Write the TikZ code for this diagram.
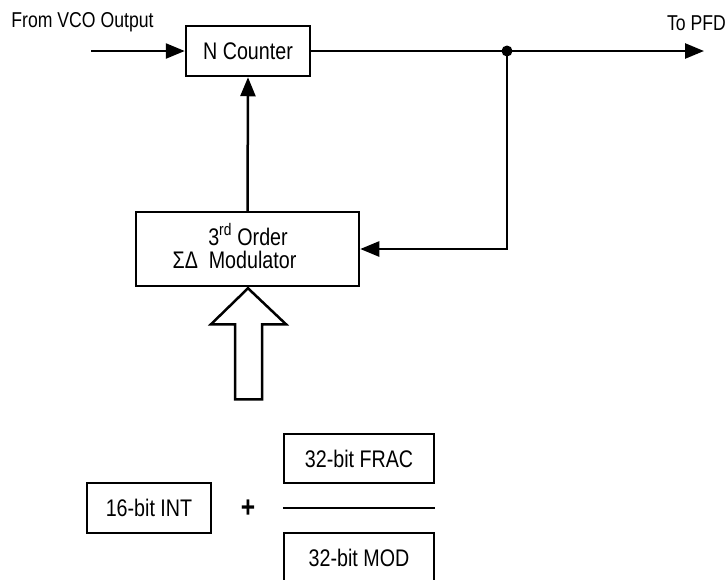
\documentclass[tikz,border=0pt]{standalone}
\usepackage{fontspec}
\setmainfont{Liberation Sans}[FakeStretch=0.82]
\usetikzlibrary{arrows.meta,positioning,calc}
\tikzset{
  blk/.style={draw,line width=2.5pt,minimum width=124pt,minimum height=50pt,
    inner sep=0pt,font=\fontsize{24}{28}\selectfont},
  txt/.style={inner sep=0pt,font=\fontsize{24}{28}\selectfont},
  lbl/.style={inner sep=0pt,font=\fontsize{21.5}{24}\selectfont},
  wire/.style={line width=2.5pt},
}

\begin{document}
\begin{tikzpicture}[x=1pt,y=-1pt,>={Triangle[length=19pt,width=15pt]}]
      \useasboundingbox (0,0) rectangle (728,579);
      \coordinate (vco) at (91,51);
      \coordinate (tap) at (507,51);
      \coordinate (pfd) at (704,51);
      \node[blk] (ncount) at (248,51) {N Counter};
      \node[blk,minimum width=223pt,minimum height=74pt] (sdmod) at (247.5,249) {};
      \node[txt,anchor=base] (ordtxt) at (248,245) {3\textsuperscript{rd} Order};
      \node[txt,anchor=base] (sdtxt) at (234.5,268) {ΣΔ\ \ Modulator};
      \node[lbl,anchor=base] (vcolbl) at (82.5,27) {From VCO Output};
      \node[lbl,anchor=base east] (pfdlbl) at (726,30) {To PFD};
      \draw[wire,->] (vco)--(ncount.west);
      \draw[wire,->] (ncount.east)--(pfd);
      \fill (tap) circle (5.5pt);
      \draw[wire,->] (tap) |- (sdmod.east);
      \draw[wire,->] (sdmod.north)--(ncount.south);
      % hollow input arrow
      \draw[wire,line join=miter] (sdmod.south) ++(0.5,1)--++(38,36)--++(-24,0)
        --++(0,75)--++(-27,0)--++(0,-75)--++(-24,0)--cycle;
      % INT + FRAC/MOD
      \node[blk] (intw) at (149,508) {16-bit INT};
      \node[font=\bfseries\fontsize{30}{30}\selectfont,inner sep=0pt] (plus) at (248,509) {+};
      \node[blk,minimum width=150pt,minimum height=49pt] (fracw) at (359,458.5) {32-bit FRAC};
      \node[blk,minimum width=150pt,minimum height=49pt] (modw) at (359,557.5) {32-bit MOD};
      \draw[wire] (fracw.south west |- intw)--(fracw.south east |- intw);
    \end{tikzpicture}
\end{document}
